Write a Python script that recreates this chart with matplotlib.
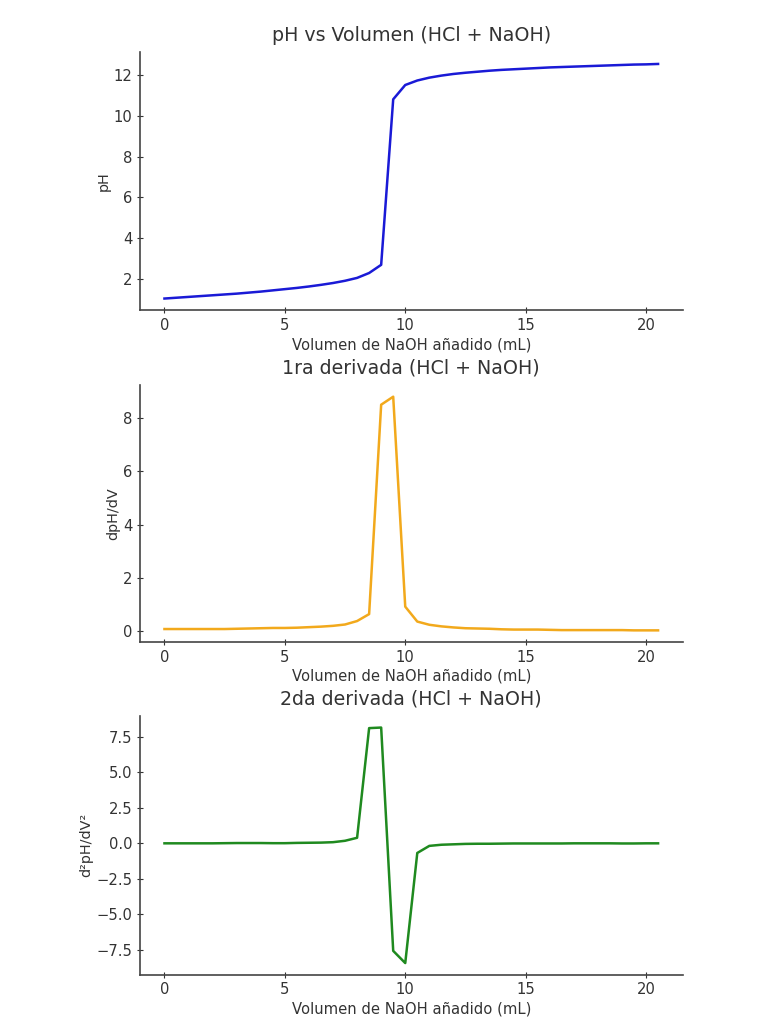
import matplotlib
matplotlib.use("Agg")
import matplotlib.pyplot as plt

# volumen de NaOH añadido (mL)
volumen = [0.0, 0.5, 1.0, 1.5, 2.0, 2.5, 3.0, 3.5, 4.0, 4.5, 5.0, 5.5, 6.0, 6.5,
           7.0, 7.5, 8.0, 8.5, 9.0, 9.5, 10.0, 10.5, 11.0, 11.5, 12.0, 12.5, 13.0,
           13.5, 14.0, 14.5, 15.0, 15.5, 16.0, 16.5, 17.0, 17.5, 18.0, 18.5, 19.0,
           19.5, 20.0, 20.5]

ph = [1.05, 1.09, 1.13, 1.17, 1.21, 1.25, 1.29, 1.34, 1.39, 1.45, 1.51, 1.57,
      1.64, 1.72, 1.81, 1.92, 2.06, 2.30, 2.70, 10.80, 11.50, 11.72, 11.86,
      11.96, 12.04, 12.10, 12.15, 12.20, 12.24, 12.27, 12.30, 12.33, 12.36,
      12.38, 12.40, 12.42, 12.44, 12.46, 12.48, 12.50, 12.51, 12.53]

dph = [0.08, 0.08, 0.08, 0.08, 0.08, 0.08, 0.09, 0.10, 0.11, 0.12, 0.12, 0.13,
       0.15, 0.17, 0.20, 0.25, 0.38, 0.64, 8.50, 8.80, 0.92, 0.36, 0.24, 0.18,
       0.14, 0.11, 0.10, 0.09, 0.07, 0.06, 0.06, 0.06, 0.05, 0.04, 0.04, 0.04,
       0.04, 0.04, 0.04, 0.03, 0.03, 0.03]

d2ph = [0.00, 0.00, 0.00, 0.00, 0.00, 0.01, 0.02, 0.02, 0.02, 0.01, 0.01, 0.03,
        0.04, 0.05, 0.08, 0.18, 0.39, 8.12, 8.16, -7.58, -8.44, -0.68, -0.18,
        -0.10, -0.07, -0.04, -0.03, -0.03, -0.02, -0.01, -0.01, -0.01, -0.01,
        -0.01, 0.00, 0.00, 0.00, 0.00, -0.01, -0.01, 0.00, 0.00]

plt.rcParams['font.family'] = ['DejaVu Sans']
plt.rcParams['text.color'] = '#333333'
plt.rcParams['axes.labelcolor'] = '#333333'
plt.rcParams['xtick.color'] = '#333333'
plt.rcParams['ytick.color'] = '#333333'

fig = plt.figure(figsize=(7.68, 10.24), dpi=100)

paneles = [
    (ph, '#1a1ad6', 'pH vs Volumen (HCl + NaOH)', 'pH', [0.182, 0.697, 0.707, 0.252]),
    (dph, '#f2a91c', '1ra derivada (HCl + NaOH)', 'dpH/dV', [0.182, 0.373, 0.707, 0.251]),
    (d2ph, '#1f8a1f', '2da derivada (HCl + NaOH)', 'd²pH/dV²', [0.182, 0.048, 0.707, 0.253]),
]

for serie, color, titulo, etiqueta, pos in paneles:
    ax = fig.add_axes(pos)
    ax.plot(volumen, serie, color=color, linewidth=1.8)
    ax.set_title(titulo, fontsize=13.7, pad=8)
    ax.set_xlabel('Volumen de NaOH añadido (mL)', fontsize=10.6, labelpad=3)
    ax.set_ylabel(etiqueta, fontsize=10.4, labelpad=2)
    ax.spines['top'].set_visible(False)
    ax.spines['right'].set_visible(False)
    ax.spines['left'].set_color('#444444')
    ax.spines['bottom'].set_color('#444444')
    ax.spines['left'].set_linewidth(1.2)
    ax.spines['bottom'].set_linewidth(1.2)
    ax.tick_params(direction='inout', length=4, width=0.8, labelsize=10.6)
    ax.set_xticks([0, 5, 10, 15, 20])

fig.savefig('out.png', dpi=100)
